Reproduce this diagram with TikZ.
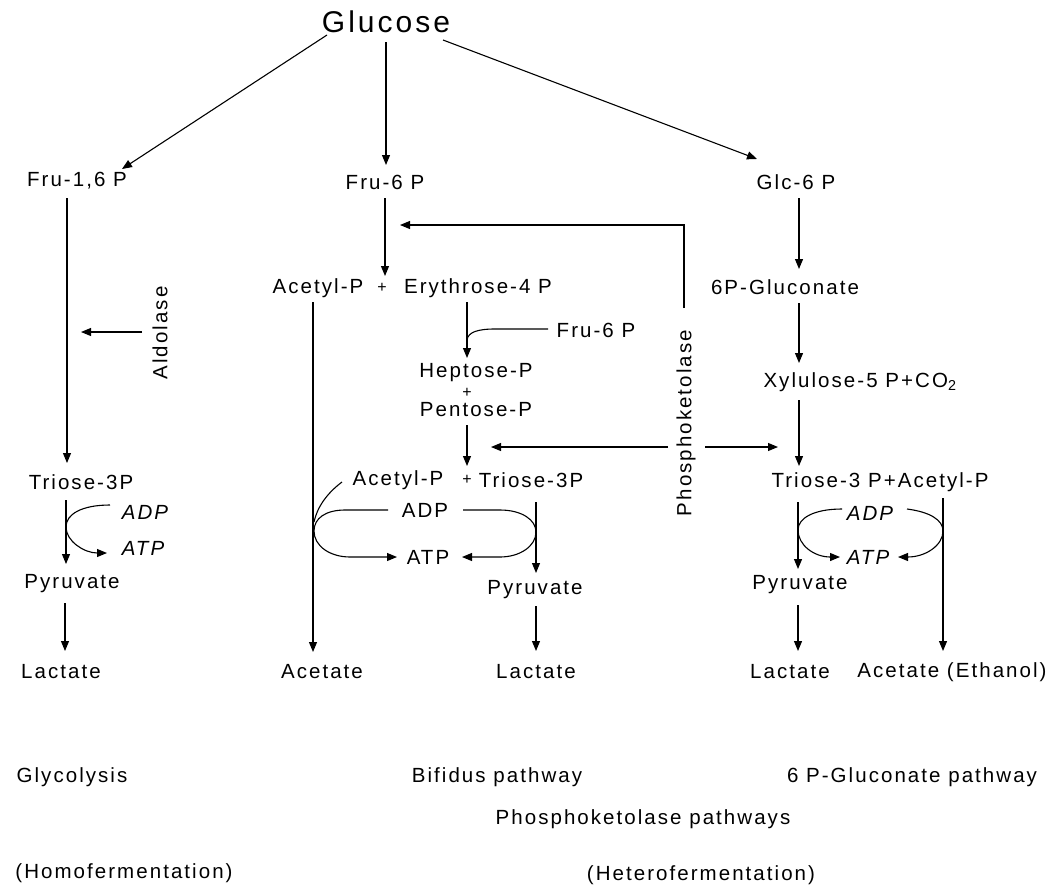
\documentclass[tikz,border=0pt]{standalone}
\usepackage{fontspec}
\setmainfont{Liberation Sans}[LetterSpace=10]
\usetikzlibrary{arrows.meta}
\begin{document}
\begin{tikzpicture}[x=1pt,y=-1pt,
  lbl/.style={inner sep=1pt,font=\fontsize{20.5}{22}\selectfont},
  ilbl/.style={inner sep=1pt,font=\fontsize{20.5}{22}\selectfont\itshape},
  plus/.style={inner sep=0pt,font=\fontsize{16}{16}\selectfont},
  arr/.style={line width=1.1pt,-{Triangle[length=10pt,width=8pt]}},
  ln/.style={line width=1.1pt}]
\useasboundingbox (0,0) rectangle (1056,886);
% ---------- nodes ----------
\node[lbl,font=\fontsize{30}{32}\selectfont] (glc) at (386,22) {Glucose};
\node[lbl] (f16) at (77,181) {Fru-1,6 P};
\node[lbl] (f6) at (385,182) {Fru-6 P};
\node[lbl] (g6) at (796,182) {Glc-6 P};
\node[lbl,rotate=90] (ald) at (160,333) {Aldolase};
\node[lbl] (t3a) at (81,482) {Triose-3P};
\node[ilbl] (adp1) at (145,512) {ADP};
\node[ilbl] (atp1) at (143,548) {ATP};
\node[lbl] (pyr1) at (72,584) {Pyruvate};
\node[lbl] (lac1) at (61,672) {Lactate};
% column 2
\node[lbl] (ac1) at (318,288) {Acetyl-P};
\node[plus] (pl1) at (382,288) {+};
\node[lbl] (ery) at (478,288) {Erythrose-4 P};
\node[lbl] (f6b) at (596,330) {Fru-6 P};
\node[lbl] (hep) at (476,373) {Heptose-P};
\node[plus] (pl2) at (467,393) {+};
\node[lbl] (pen) at (476,410) {Pentose-P};
\node[lbl] (ac2) at (398,480) {Acetyl-P};
\node[plus] (pl3) at (467,480) {+};
\node[lbl] (tr2) at (531,480) {Triose-3P};
\node[lbl] (adp2) at (425,510) {ADP};
\node[lbl] (atp2) at (428,557) {ATP};
\node[lbl] (pyr2) at (535,590) {Pyruvate};
\node[lbl] (lac2) at (536,672) {Lactate};
\node[lbl] (ace2) at (322,672) {Acetate};
% column 3
\node[lbl] (gluc) at (785,287) {6P-Gluconate};
\node[lbl] (xyl) at (860,382) {Xylulose-5 P+CO\textsubscript{2}};
\node[lbl] (tr3) at (880,482) {Triose-3 P+Acetyl-P};
\node[ilbl] (adp3) at (870,513) {ADP};
\node[ilbl] (atp3) at (868,557) {ATP};
\node[lbl] (pyr3) at (800,585) {Pyruvate};
\node[lbl] (lac3) at (790,672) {Lactate};
\node[lbl] (ace3) at (952,672) {Acetate (Ethanol)};
\node[lbl,rotate=90] (pk) at (686,423) {Phosphoketolase};
% bottom labels
\node[lbl] (glyc) at (72,777) {Glycolysis};
\node[lbl] (bif) at (497,777) {Bifidus pathway};
\node[lbl] (gpp) at (912,777) {6 P-Gluconate pathway};
\node[lbl] (pkp) at (643,819) {Phosphoketolase pathways};
\node[lbl] (homo) at (124,873) {(Homofermentation)};
\node[lbl] (het) at (701,875) {(Heterofermentation)};
% ---------- coordinates ----------
\coordinate (gA) at (327,35);  \coordinate (gAe) at (122,169);
\coordinate (gB) at (386,42);  \coordinate (gBe) at (386,165);
\coordinate (gC) at (443,40);  \coordinate (gCe) at (757,159);
\coordinate (c1a) at (67,198); \coordinate (c1b) at (67,463);
\coordinate (alA) at (142,332); \coordinate (alB) at (81,332);
\coordinate (c1c) at (66,500); \coordinate (c1d) at (66,564);
\coordinate (c1e) at (65,603); \coordinate (c1f) at (65,651);
\coordinate (c2a) at (385,198); \coordinate (c2b) at (385,276);
\coordinate (pkA) at (684,308); \coordinate (pkB) at (684,225); \coordinate (pkC) at (400,225);
\coordinate (pkD) at (668,447); \coordinate (pkE) at (491,447);
\coordinate (pkF) at (705,447); \coordinate (pkG) at (778,447);
\coordinate (c2c) at (313,302); \coordinate (c2d) at (313,652);
\coordinate (c2e) at (467,302); \coordinate (c2f) at (467,358);
\coordinate (f6s) at (548,329);
\coordinate (c2g) at (467,425); \coordinate (c2h) at (467,466);
\coordinate (c2i) at (536,502); \coordinate (c2j) at (536,573);
\coordinate (c2k) at (536,606); \coordinate (c2l) at (536,651);
\coordinate (acS) at (342,482); \coordinate (acT) at (314,522);
\coordinate (c3a) at (799,198); \coordinate (c3b) at (799,269);
\coordinate (c3c) at (799,303); \coordinate (c3d) at (799,363);
\coordinate (c3e) at (799,400); \coordinate (c3f) at (799,466);
\coordinate (c3g) at (798,502); \coordinate (c3h) at (798,569);
\coordinate (c3i) at (798,605); \coordinate (c3j) at (798,651);
\coordinate (c3k) at (943,498); \coordinate (c3l) at (943,651);
% ---------- connectors ----------
\draw[arr] (gA) -- (gAe);
\draw[arr] (gB) -- (gBe);
\draw[arr] (gC) -- (gCe);
% glycolysis
\draw[arr] (c1a) -- (c1b);
\draw[arr] (alA) -- (alB);
\draw[arr] (c1c) -- (c1d);
\draw[arr] (110,505) .. controls (82,505) and (66,514) .. (66,527) .. controls (66,541) and (84,553) .. (107,553);
\draw[arr] (c1e) -- (c1f);
% bifidus
\draw[arr] (c2a) -- (c2b);
\draw[arr] (pkA) -- (pkB) -- (pkC);
\draw[arr] (pkD) -- (pkE);
\draw[arr] (pkF) -- (pkG);
\draw[arr] (c2c) -- (c2d);
\draw[arr] (c2e) -- (c2f);
\draw[ln] (f6s) -- (495,329) .. controls (478,329) and (468,332) .. (467,340);
\draw[arr] (c2g) -- (c2h);
\draw[ln] (acS) .. controls (326,494) and (317,508) .. (acT);
\draw[arr] (388,510) -- (345,510) .. controls (326,510) and (314,518) .. (314,531) .. controls (314,546) and (330,557) .. (350,557) -- (397,557);
\draw[arr] (463,510) -- (500,510) .. controls (522,510) and (536,520) .. (536,532) .. controls (536,546) and (520,557) .. (500,557) -- (462,557);
\draw[arr] (c2i) -- (c2j);
\draw[arr] (c2k) -- (c2l);
% 6P-gluconate
\draw[arr] (c3a) -- (c3b);
\draw[arr] (c3c) -- (c3d);
\draw[arr] (c3e) -- (c3f);
\draw[arr] (c3g) -- (c3h);
\draw[arr] (c3i) -- (c3j);
\draw[arr] (c3k) -- (c3l);
\draw[arr] (842,509) .. controls (814,509) and (798,518) .. (798,530) .. controls (798,545) and (814,557) .. (840,557);
\draw[arr] (907,509) .. controls (930,512) and (943,520) .. (943,531) .. controls (943,545) and (926,557) .. (898,557);
\end{tikzpicture}
\end{document}
